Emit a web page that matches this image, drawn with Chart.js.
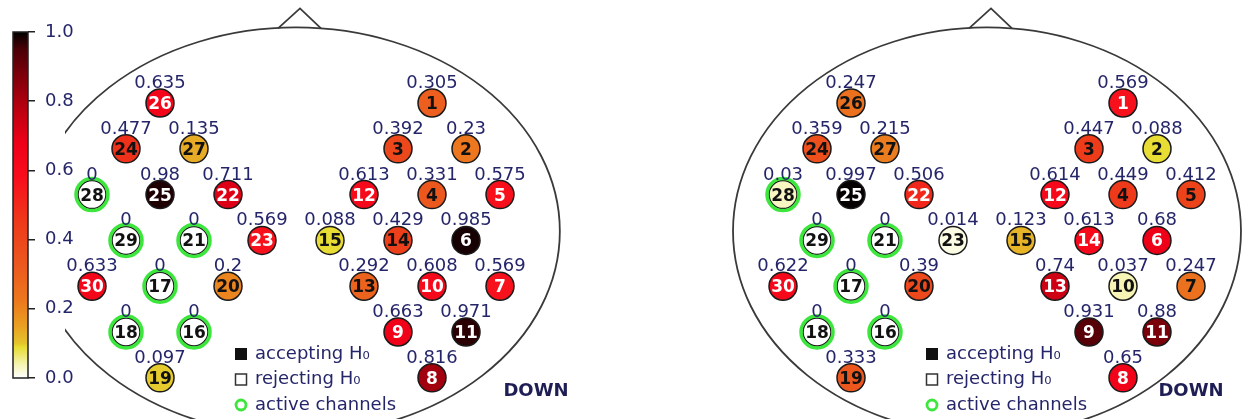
<!DOCTYPE html>
<html>
<head>
<meta charset="utf-8">
<title>Channel maps</title>
<script src="https://cdn.jsdelivr.net/npm/chart.js@4.4.1/dist/chart.umd.min.js"></script>
<style>
  html, body { margin: 0; padding: 0; background: #fff; }
  #wrap { position: relative; width: 1248px; height: 419px; overflow: hidden; }
  #wrap canvas { position: absolute; top: 0; }
</style>
</head>
<body>
<div id="wrap">
  <canvas id="cbar" width="80" height="419" style="left:0px"></canvas>
  <canvas id="headL" width="584" height="419" style="left:40px"></canvas>
  <canvas id="headR" width="624" height="419" style="left:624px"></canvas>
</div>
<script>
// ------------------- DATOS -------------------

// Channel numbers and their place on the montage grid (column, row)
const CHANNELS = [1, 2, 3, 4, 5, 6, 7, 8, 9, 10, 11, 12, 13, 14, 15,
                  16, 17, 18, 19, 20, 21, 22, 23, 24, 25, 26, 27, 28, 29, 30];
const CH_COL = [4, 5, 3, 4, 6, 5, 6, 4, 3, 4, 5, 2, 2, 3, 1,
                -3, -4, -5, -4, -2, -3, -2, -1, -5, -4, -4, -3, -6, -5, -6];
const CH_ROW = [0, 1, 1, 2, 2, 3, 4, 6, 5, 4, 5, 2, 4, 3, 3,
                5, 4, 5, 6, 4, 3, 2, 3, 1, 2, 0, 1, 2, 3, 4];

// Active channels (green ring)
const ACTIVE = [16, 17, 18, 21, 28, 29];

// p-values per channel, left map and right map
const VALUES_A = [0.305, 0.23, 0.392, 0.331, 0.575, 0.985, 0.569, 0.816, 0.663, 0.608,
                  0.971, 0.613, 0.292, 0.429, 0.088, 0, 0, 0, 0.097, 0.2,
                  0, 0.711, 0.569, 0.477, 0.98, 0.635, 0.135, 0, 0, 0.633];
const VALUES_B = [0.569, 0.088, 0.447, 0.449, 0.412, 0.68, 0.247, 0.65, 0.931, 0.037,
                  0.88, 0.614, 0.74, 0.613, 0.123, 0, 0, 0, 0.333, 0.39,
                  0, 0.506, 0.014, 0.359, 0.997, 0.247, 0.215, 0.03, 0, 0.622];

// Color bar ticks
const CBAR_TICKS = [0, 0.2, 0.4, 0.6, 0.8, 1.0];

const LEGEND_LABELS = ['accepting H\u2080', 'rejecting H\u2080', 'active channels'];
const CAPTION = 'DOWN';

// ------------------- ESTILO -------------------

const FONT = '"DejaVu Sans", "Liberation Sans", sans-serif';
const NAVY = '#25256a';
const GREEN = '#3ce63c';

// white -> yellow -> orange -> red -> black
const COLOR_STOPS = [
    [0.00, '#ffffff'],
    [0.04, '#f6f4b0'],
    [0.09, '#e6dc30'],
    [0.10, '#e4c42c'],
    [0.15, '#eaa022'],
    [0.22, '#ec7a1e'],
    [0.32, '#ec5a1e'],
    [0.45, '#ee3a1a'],
    [0.58, '#f80d1c'],
    [0.68, '#ee0018'],
    [0.78, '#b80010'],
    [0.88, '#7a000a'],
    [0.95, '#4a0006'],
    [1.00, '#000000']
];

// grid spacing in px and where row 0 sits
const COL_PX = 34;
const ROW_PX = 45.8;
const ROW0_PX = 103;
const HEAD_CY = 2.8;     // rows
const HEAD_RY = 4.45;    // rows

const PANELS = [
    { id: 'headL', values: VALUES_A, canvasLeft: 40, areaLeft: 65, areaRight: 624, centerPx: 296, headRx: 7.76, captionDx: 240 },
    { id: 'headR', values: VALUES_B, canvasLeft: 624, areaLeft: 624, areaRight: 1248, centerPx: 987, headRx: 7.47, captionDx: 204 }
];

// ------------------- FUNCIONES -------------------

function hexToRgb(h) {
    const n = parseInt(h.slice(1), 16);
    return [(n >> 16) & 255, (n >> 8) & 255, n & 255];
}

function valueColor(v) {
    for (let i = 1; i < COLOR_STOPS.length; i++) {
        const [v1, c1] = COLOR_STOPS[i];
        if (v <= v1) {
            const [v0, c0] = COLOR_STOPS[i - 1];
            const t = (v - v0) / (v1 - v0);
            const a = hexToRgb(c0), b = hexToRgb(c1);
            return `rgb(${a.map((x, k) => Math.round(x + (b[k] - x) * t)).join(',')})`;
        }
    }
    return COLOR_STOPS[COLOR_STOPS.length - 1][1];
}

// Head outline with nose, clipped to the plot area
const headPlugin = {
    id: 'head',
    beforeDatasetsDraw(chart, args, opts) {
        const { ctx, chartArea, scales: { x, y } } = chart;
        const cx = x.getPixelForValue(0);
        const cy = y.getPixelForValue(HEAD_CY);
        const rx = Math.abs(x.getPixelForValue(opts.rx) - cx);
        const ry = Math.abs(y.getPixelForValue(HEAD_CY + HEAD_RY) - cy);
        ctx.save();
        ctx.beginPath();
        ctx.rect(chartArea.left, chartArea.top, chartArea.right - chartArea.left, chartArea.bottom - chartArea.top);
        ctx.clip();
        ctx.strokeStyle = '#3a3a3a';
        ctx.lineWidth = 1.8;
        ctx.beginPath();
        ctx.ellipse(cx, cy, rx, ry, 0, 0, Math.PI * 2);
        ctx.stroke();
        const top = cy - ry;
        ctx.beginPath();
        ctx.moveTo(cx - 18, top + 1);
        ctx.lineTo(cx + 4, top - 19);
        ctx.lineTo(cx + 25, top + 1);
        ctx.stroke();
        ctx.restore();
    }
};

// Channel numbers inside the circles and values above them
const channelLabels = {
    id: 'channelLabels',
    afterDatasetsDraw(chart) {
        const { ctx } = chart;
        const meta = chart.getDatasetMeta(1);
        const pts = chart.data.datasets[1].data;
        ctx.save();
        ctx.textAlign = 'center';
        ctx.textBaseline = 'alphabetic';
        meta.data.forEach((el, i) => {
            const d = pts[i];
            ctx.font = `18px ${FONT}`;
            ctx.fillStyle = NAVY;
            ctx.fillText(String(d.v), el.x, el.y - 15);
            ctx.font = `bold 17px ${FONT}`;
            ctx.fillStyle = d.v > 0.5 ? '#ffffff' : '#111111';
            ctx.fillText(String(d.ch), el.x, el.y + 6);
        });
        ctx.restore();
    }
};

// Legend box and panel caption
const headLegend = {
    id: 'headLegend',
    afterDraw(chart, args, opts) {
        const { ctx, chartArea, scales: { x } } = chart;
        const cx = x.getPixelForValue(0);
        const rowsY = [chartArea.bottom - 65, chartArea.bottom - 39.5, chartArea.bottom - 14];
        const sx = cx - 55;
        ctx.save();
        // symbols
        ctx.fillStyle = '#111';
        ctx.fillRect(sx - 6, rowsY[0] - 6, 12, 12);
        ctx.fillStyle = '#fff';
        ctx.strokeStyle = '#333';
        ctx.lineWidth = 1.5;
        ctx.fillRect(sx - 5.5, rowsY[1] - 5.5, 11, 11);
        ctx.strokeRect(sx - 5.5, rowsY[1] - 5.5, 11, 11);
        ctx.strokeStyle = GREEN;
        ctx.lineWidth = 2.8;
        ctx.beginPath();
        ctx.arc(sx, rowsY[2], 5, 0, Math.PI * 2);
        ctx.stroke();
        // texts
        ctx.fillStyle = NAVY;
        ctx.font = `18px ${FONT}`;
        ctx.textAlign = 'left';
        ctx.textBaseline = 'middle';
        LEGEND_LABELS.forEach((t, i) => ctx.fillText(t, cx - 41, rowsY[i]));
        // caption
        ctx.font = `bold 18px ${FONT}`;
        ctx.fillStyle = '#1e1e55';
        ctx.textAlign = 'center';
        ctx.fillText(CAPTION, cx + opts.captionDx, chartArea.bottom - 28);
        ctx.restore();
    }
};

// Gradient fill of the color bar
const colorbarPlugin = {
    id: 'colorbar',
    beforeDatasetsDraw(chart) {
        const { ctx, chartArea: a } = chart;
        const g = ctx.createLinearGradient(0, a.bottom, 0, a.top);
        COLOR_STOPS.forEach(([v, c]) => g.addColorStop(v, c));
        ctx.save();
        ctx.fillStyle = g;
        ctx.fillRect(a.left, a.top, a.right - a.left, a.bottom - a.top);
        ctx.strokeStyle = '#222';
        ctx.lineWidth = 1.5;
        ctx.strokeRect(a.left, a.top, a.right - a.left, a.bottom - a.top);
        ctx.restore();
    }
};

function renderHead(p) {
    const circles = CHANNELS.map((ch, i) => ({ x: CH_COL[i], y: CH_ROW[i], ch, v: p.values[i] }));
    const rings = circles.filter(c => ACTIVE.includes(c.ch));

    new Chart(document.getElementById(p.id), {
        type: 'scatter',
        data: {
            datasets: [
                {
                    label: 'active channels',
                    data: rings,
                    pointRadius: 16,
                    pointBorderWidth: 3.5,
                    pointBorderColor: GREEN,
                    pointBackgroundColor: 'rgba(0,0,0,0)'
                },
                {
                    label: 'channels',
                    data: circles,
                    pointRadius: 14,
                    pointBorderWidth: 1.5,
                    pointBorderColor: '#1a1a1a',
                    pointBackgroundColor: circles.map(c => valueColor(c.v))
                }
            ]
        },
        options: {
            responsive: false,
            animation: false,
            events: [],
            layout: {
                autoPadding: false,
                padding: { left: p.areaLeft - p.canvasLeft, right: 0, top: 0, bottom: 0 }
            },
            plugins: {
                legend: { display: false },
                tooltip: { enabled: false },
                head: { rx: p.headRx },
                headLegend: { captionDx: p.captionDx }
            },
            scales: {
                x: {
                    display: false,
                    min: (p.areaLeft - p.centerPx) / COL_PX,
                    max: (p.areaRight - p.centerPx) / COL_PX
                },
                y: {
                    display: false,
                    reverse: true,
                    min: -ROW0_PX / ROW_PX,
                    max: (419 - ROW0_PX) / ROW_PX
                }
            }
        },
        plugins: [headPlugin, channelLabels, headLegend]
    });
}

function renderColorbar() {
    new Chart(document.getElementById('cbar'), {
        type: 'scatter',
        data: { datasets: [] },
        options: {
            responsive: false,
            animation: false,
            events: [],
            layout: { autoPadding: false, padding: { left: 13, top: 32, bottom: 41, right: 0 } },
            plugins: { legend: { display: false }, tooltip: { enabled: false } },
            scales: {
                x: { display: false },
                y: {
                    position: 'right',
                    min: 0,
                    max: 1,
                    afterBuildTicks: s => { s.ticks = CBAR_TICKS.map(v => ({ value: v })); },
                    afterFit: s => { s.width = 52; },
                    ticks: {
                        callback: v => Number(v).toFixed(1),
                        color: NAVY,
                        font: { family: FONT, size: 18 },
                        padding: 10
                    },
                    grid: { drawOnChartArea: false, drawTicks: true, tickLength: 7, color: '#222', lineWidth: 1.5 },
                    border: { display: false }
                }
            }
        },
        plugins: [colorbarPlugin]
    });
}

// ------------------- EVENTOS -------------------

document.addEventListener('DOMContentLoaded', () => {
    renderColorbar();
    PANELS.forEach(renderHead);
});
</script>
</body>
</html>
